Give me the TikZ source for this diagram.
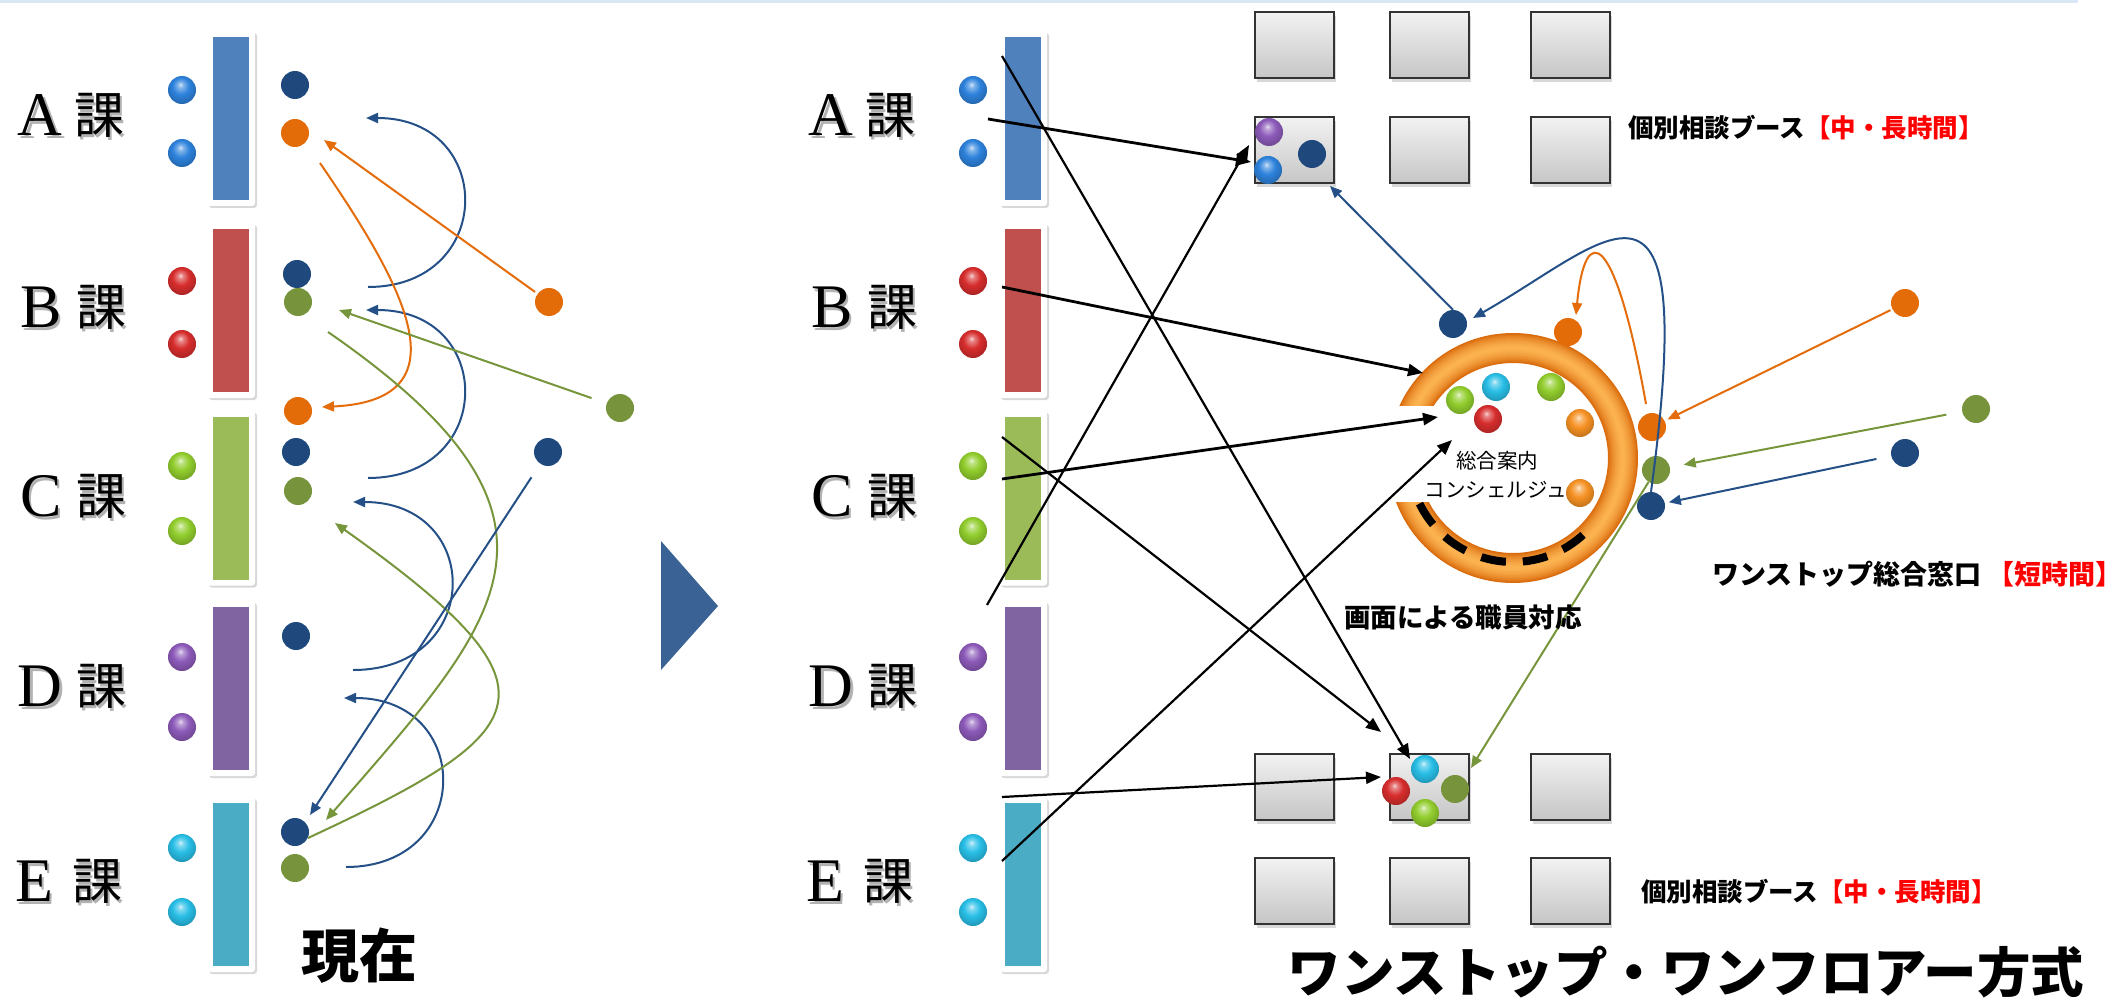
\documentclass[tikz,border=0pt]{standalone}
\usepackage{fontspec}
\newfontfamily\jp{Noto Sans CJK JP}
\newfontfamily\serifA{Liberation Serif}
\usetikzlibrary{arrows.meta,shadows,calc}
\definecolor{barA}{RGB}{79,129,189}
\definecolor{barB}{RGB}{192,80,77}
\definecolor{barC}{RGB}{155,187,89}
\definecolor{barD}{RGB}{128,100,162}
\definecolor{barE}{RGB}{75,172,198}
\definecolor{dblue}{RGB}{31,73,125}
\definecolor{dorange}{RGB}{227,108,9}
\definecolor{dgreen}{RGB}{119,147,60}
\definecolor{sBlue}{RGB}{45,130,220}
\definecolor{sRed}{RGB}{215,45,45}
\definecolor{sGreen}{RGB}{145,205,45}
\definecolor{sPurple}{RGB}{140,90,185}
\definecolor{sCyan}{RGB}{40,190,230}
\definecolor{sOrange}{RGB}{245,145,35}
\definecolor{lineB}{RGB}{37,80,135}
\definecolor{lineO}{RGB}{228,108,10}
\definecolor{lineG}{RGB}{119,150,60}
\definecolor{ringD}{RGB}{218,108,14}
\definecolor{ringL}{RGB}{252,178,80}
\definecolor{triC}{RGB}{58,98,148}
\definecolor{topline}{RGB}{218,232,246}
\colorlet{ballc}{blue}
\pgfdeclareradialshading[ballc]{myball}{\pgfqpoint{-3bp}{10bp}}{%
  color(0bp)=(ballc!20!white); color(5bp)=(ballc!60!white); color(15bp)=(ballc);
  color(30bp)=(ballc!78!black); color(50bp)=(ballc!60!black)}
\tikzset{
  frame/.style={fill=white, rounded corners=3pt, minimum width=48pt, minimum height=175pt, inner sep=0pt,
    drop shadow={shadow xshift=2pt, shadow yshift=-2pt, opacity=0.3}},
  bar/.style={fill=#1, minimum width=36pt, minimum height=163pt, inner sep=0pt},
  sph/.style={circle, inner sep=0pt, minimum size=28pt, /utils/exec={\colorlet{ballc}{#1}}, shading=myball},
  fdot/.style={circle, inner sep=0pt, minimum size=28pt, fill=#1},
  booth/.style={rectangle, draw=black!80, line width=2pt, minimum width=79pt, minimum height=66pt, inner sep=0pt,
    top color=gray!10, bottom color=gray!45, drop shadow={shadow xshift=2pt, shadow yshift=-4pt, opacity=0.3}},
  lettr/.style={font=\serifA\fontsize{62}{62}\selectfont, inner sep=0pt},
  kaji/.style={font=\jp\fontsize{50}{50}\selectfont, inner sep=0pt},
  barr/.style={draw=lineB, line width=2pt, -{Triangle[length=12pt,width=10pt]}},
  oarr/.style={draw=lineO, line width=2pt, -{Triangle[length=12pt,width=10pt]}},
  garr/.style={draw=lineG, line width=2pt, -{Triangle[length=12pt,width=10pt]}},
  karr/.style={draw=black, line width=2.2pt, -{Triangle[length=15pt,width=12pt]}},
  kbarr/.style={karr, line width=2.8pt},
  jtxt/.style={inner sep=0pt, font=\jp\fontsize{#1}{#1}\selectfont},
  jbtxt/.style={inner sep=0pt, font=\jp\bfseries\fontsize{#1}{#1}\selectfont},
}
\begin{document}
\begin{tikzpicture}[x=1pt,y=-1pt]
\useasboundingbox (0,0) rectangle (2123,1003);
\fill[white] (0,0) rectangle (2123,1003);
\draw[topline, line width=3pt] (0,1.5) -- (2078,1.5);

% ---------- bars, spheres, labels (both panels) ----------
\foreach \n/\y/\c in {A/118.5/barA, B/310.5/barB, C/498/barC, D/688.5/barD, E/884.5/barE} {
  \node[frame] (lf\n) at (231,\y) {};
  \node[bar=\c] (lb\n) at (231,\y) {};
  \node[frame] (rf\n) at (1023,\y) {};
  \node[bar=\c] (rb\n) at (1023,\y) {};
}
\foreach \n/\ya/\yb/\c in {A/90/153/sBlue, B/281/344/sRed, C/466/531/sGreen, D/657/727/sPurple, E/848/912/sCyan} {
  \node[sph=\c] (ls\n1) at (182,\ya) {};
  \node[sph=\c] (ls\n2) at (182,\yb) {};
  \node[sph=\c] (rs\n1) at (973,\ya) {};
  \node[sph=\c] (rs\n2) at (973,\yb) {};
}
\foreach \n/\y/\lx/\kx in {A/115/40/99, B/307/41/101, C/496/41/101, D/686/40/101, E/881/34/97} {
  \node[lettr, text=black!30, xshift=2.5pt, yshift=-3pt] (llS\n) at (\lx,\y) {\n};
  \node[kaji, text=black!30, xshift=2.5pt, yshift=-3pt] (lkS\n) at (\kx,\y) {課};
  \node[lettr] (ll\n) at (\lx,\y) {\n};
  \node[kaji] (lk\n) at (\kx,\y) {課};
  \node[lettr, text=black!30, xshift=2.5pt, yshift=-3pt] (rlS\n) at (\lx+791,\y) {\n};
  \node[kaji, text=black!30, xshift=2.5pt, yshift=-3pt] (rkS\n) at (\kx+791,\y) {課};
  \node[lettr] (rl\n) at (\lx+791,\y) {\n};
  \node[kaji] (rk\n) at (\kx+791,\y) {課};
}

% ---------- left panel dots ----------
\node[fdot=dblue] (dA1) at (295,85) {};
\node[fdot=dorange] (oA) at (295,133) {};
\node[fdot=dblue] (dB1) at (297,274) {};
\node[fdot=dgreen] (gB) at (298,302) {};
\node[fdot=dorange] (oC) at (298,411) {};
\node[fdot=dblue] (dC) at (296,452) {};
\node[fdot=dgreen] (gC) at (298,491) {};
\node[fdot=dblue] (dD) at (296,636) {};
\node[fdot=dblue] (dE) at (295,832) {};
\node[fdot=dgreen] (gE) at (295,868) {};
\node[fdot=dorange] (oR) at (549,302) {};
\node[fdot=dgreen] (gR) at (620,408) {};
\node[fdot=dblue] (dR) at (548,452) {};

% ---------- left panel connectors ----------
\coordinate (b1s) at (368,287); \coordinate (b1e) at (366,118);
\coordinate (b2s) at (368,478); \coordinate (b2e) at (366,310);
\coordinate (b3s) at (353,670); \coordinate (b3e) at (353,502);
\coordinate (b4s) at (346,867); \coordinate (b4e) at (344,698);
\draw[barr] (b1s) .. controls (496,287) and (496,118) .. (b1e);
\draw[barr] (b2s) .. controls (496,478) and (496,310) .. (b2e);
\draw[barr] (b3s) .. controls (484,670) and (484,502) .. (b3e);
\draw[barr] (b4s) .. controls (474,867) and (474,698) .. (b4e);
\coordinate (o1e) at (324,140);
\draw[oarr, shorten <=3pt] (oR) -- (o1e);
\coordinate (o2s) at (320,163); \coordinate (o2e) at (322,407);
\draw[oarr] (o2s) .. controls (400,280) and (470,400) .. (o2e);
\coordinate (g1e) at (339,310);
\draw[garr, shorten <=16pt] (gR) -- (g1e);
\coordinate (g2s) at (328,332); \coordinate (g2e) at (326,820);
\draw[garr] (g2s) .. controls (600,520) and (500,620) .. (g2e);
\coordinate (g3s) at (308,838); \coordinate (g3e) at (335,523);
\draw[garr] (g3s) .. controls (540,730) and (570,690) .. (g3e);
\coordinate (b5e) at (310,815);
\draw[barr, shorten <=16pt] (dR) -- (b5e);

\node[jbtxt=58] (txNow) at (359,956) {現在};

% ---------- separator ----------
\fill[triC] (661,541) -- (718,606) -- (661,670) -- cycle;

% ---------- booths ----------
\foreach \r/\y in {1/45, 2/150.5, 3/786.5, 4/890.5}
  \foreach \c/\x in {1/1294.5, 2/1429, 3/1570.5}
    \node[booth] (bk\r\c) at (\x,\y) {};

% ---------- ring ----------
\coordinate (ring) at (1513,458);
\foreach \w/\p in {30/0, 27/18, 24/34, 21/48, 18/60, 15/71, 12/80, 9/88, 6/95, 3/100}
  \draw[line width=\w pt, color=ringL!\p!ringD] (ring) circle[radius=110];
\fill[white] (1376,406) rectangle (1436,502);
\draw[line width=8pt, dash pattern=on 25pt off 17pt] ($(ring)+(154:104)$) arc[start angle=154, end angle=46, radius=104];

\node[jtxt=20.5] (txS1) at (1497,461) {総合案内};
\node[jtxt=20.5] (txS2) at (1496,490) {コンシェルジュ};

\node[sph=sGreen] (rbG1) at (1460,400) {};
\node[sph=sCyan] (rbC) at (1496,387) {};
\node[sph=sRed] (rbR) at (1488,419) {};
\node[sph=sGreen] (rbG2) at (1551,387) {};
\node[sph=sOrange] (rbO1) at (1580,423) {};
\node[sph=sOrange] (rbO2) at (1580,493) {};

% ---------- booth contents ----------
\node[sph=sPurple] (bb1) at (1269,132) {};
\node[sph=sBlue] (bb2) at (1268,170) {};
\node[fdot=dblue] (bb3) at (1312,154) {};
\node[sph=sCyan] (bb4) at (1425,769) {};
\node[sph=sRed] (bb5) at (1396,791) {};
\node[sph=sGreen] (bb6) at (1425,813) {};
\node[fdot=dgreen] (bb7) at (1455,789) {};

% ---------- ring dots ----------
\node[fdot=dblue] (qB1) at (1453,324) {};
\node[fdot=dorange] (qO1) at (1568,332) {};
\node[fdot=dorange] (qO2) at (1652,427) {};
\node[fdot=dgreen] (qG) at (1656,470) {};
\node[fdot=dblue] (qB2) at (1651,506) {};
\node[fdot=dorange] (pO) at (1905,303) {};
\node[fdot=dgreen] (pG) at (1976,409) {};
\node[fdot=dblue] (pB) at (1905,453) {};

% ---------- right colored connectors ----------
\draw[oarr, shorten <=2pt, shorten >=3pt] (pO) -- (qO2);
\draw[garr, shorten <=16pt, shorten >=14pt] (pG) -- (qG);
\draw[barr, shorten <=15pt, shorten >=4pt] (pB) -- (qB2);
\coordinate (qB1t) at (1473,318);
\draw[barr] (qB2.north) .. controls (1700,130) and (1610,240) .. (qB1t);
\coordinate (qO2s) at (1646,404); \coordinate (qO1t) at (1576,315);
\draw[oarr] (qO2s) .. controls (1615,230) and (1585,220) .. (qO1t);
\coordinate (bk21t) at (1330,186);
\draw[barr] (qB1.north) -- (bk21t);
\coordinate (bk32g) at (1471,768);
\draw[garr] (qG) -- (bk32g);

% ---------- black connectors ----------
\coordinate (kAs) at (988,119);  \coordinate (kAt) at (1251,162);
\coordinate (kBs) at (1002,56);  \coordinate (kBt) at (1410,759);
\coordinate (kCs) at (1002,287); \coordinate (kCt) at (1423,373);
\coordinate (kDs) at (1002,479); \coordinate (kDt) at (1438,417);
\coordinate (kEs) at (1002,437); \coordinate (kEt) at (1381,732);
\coordinate (kFs) at (987,605);  \coordinate (kFt) at (1249,145);
\coordinate (kGs) at (1002,797); \coordinate (kGt) at (1381,777);
\coordinate (kHs) at (1002,861); \coordinate (kHt) at (1452,440);
\draw[kbarr] (kAs) -- (kAt);
\draw[karr] (kBs) -- (kBt);
\draw[kbarr] (kCs) -- (kCt);
\draw[kbarr] (kDs) -- (kDt);
\draw[karr] (kEs) -- (kEt);
\draw[karr] (kFs) -- (kFt);
\draw[karr] (kGs) -- (kGt);
\draw[karr] (kHs) -- (kHt);

% ---------- texts ----------
\node[jbtxt=25.5, anchor=west] (txB1) at (1628,128) {個別相談ブース\textcolor{red}{【中・長時間】}};
\node[jbtxt=25.5, anchor=west] (txB2) at (1641,892) {個別相談ブース\textcolor{red}{【中・長時間】}};
\node[jbtxt=27, anchor=west] (txW) at (1712,574) {ワンストップ総合窓口\hspace{6pt}\textcolor{red}{【短時間】}};
\node[jbtxt=26.5, anchor=west] (txG) at (1344,617) {画面による職員対応};
\node[jbtxt=53.5] (txTitle) at (1686,972) {ワンストップ・ワンフロアー方式};
\end{tikzpicture}
\end{document}
